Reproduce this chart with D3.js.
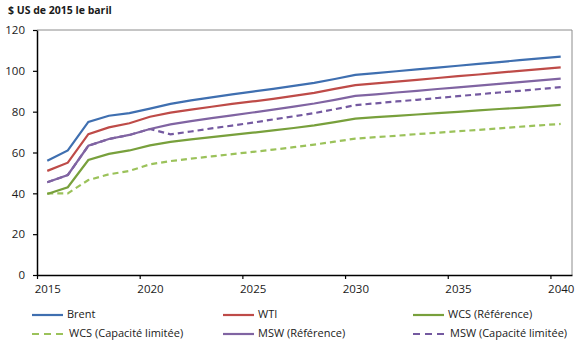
<!DOCTYPE html>
<html lang="fr">
<head>
<meta charset="UTF-8">
<title>Prix du pétrole</title>
<script src="https://d3js.org/d3.v7.min.js"></script>
<style>
    body { margin: 0; background: #fff; }
    text { font-family: "Open Sans", "Noto Sans", sans-serif; fill: #1a1a1a; }
</style>
</head>
<body>
<svg width="580" height="343"></svg>
<script type="text/javascript">
    var years = d3.range(2015, 2041);
    var xTicks = [2015, 2020, 2025, 2030, 2035, 2040];
    var yTicks = [0, 20, 40, 60, 80, 100, 120];

    var brent = [56, 61, 75, 78, 79.3, 81.5, 83.8, 85.5, 87, 88.5, 89.8, 91.2, 92.6, 94.1, 96, 98,
        98.9, 99.8, 100.7, 101.6, 102.5, 103.4, 104.3, 105.2, 106.1, 107];
    var wti = [51, 55, 69, 72.3, 74.3, 77.5, 79.5, 81, 82.4, 83.8, 85, 86.3, 87.7, 89.2, 91.2, 93,
        93.9, 94.7, 95.6, 96.5, 97.4, 98.2, 99.1, 100, 100.8, 101.7];
    var wcsRef = [39.7, 43, 56.3, 59.3, 61, 63.5, 65.2, 66.4, 67.5, 68.6, 69.7, 70.8, 72, 73.3, 74.9, 76.6,
        77.3, 77.9, 78.6, 79.3, 79.9, 80.6, 81.3, 81.9, 82.6, 83.3];
    var wcsCap = [40, 40, 46.5, 49.3, 51, 54.2, 55.8, 57, 58.1, 59.2, 60.3, 61.4, 62.6, 63.9, 65.3, 66.8,
        67.5, 68.2, 69, 69.7, 70.4, 71.1, 71.8, 72.6, 73.3, 74];
    var mswRef = [45.4, 49, 63.3, 66.6, 68.6, 71.5, 73.8, 75.4, 76.8, 78.2, 79.6, 81, 82.5, 84, 85.8, 87.7,
        88.5, 89.4, 90.2, 91.1, 91.9, 92.8, 93.6, 94.5, 95.3, 96.2];
    var mswCap = [45.4, 49, 63.3, 66.6, 68.6, 71.5, 68.9, 70.3, 71.8, 73.2, 74.6, 76.2, 77.7, 79.3, 81.2, 83.2,
        84.1, 85, 85.8, 86.7, 87.6, 88.5, 89.4, 90.2, 91.1, 92];

    var series = [
        { name: "Brent", values: brent, color: "#3f6fb0", dash: null },
        { name: "WTI", values: wti, color: "#be4b48", dash: null },
        { name: "WCS (Référence)", values: wcsRef, color: "#78a03c", dash: null },
        { name: "WCS (Capacité limitée)", values: wcsCap, color: "#9bc25a", dash: "6,4" },
        { name: "MSW (Référence)", values: mswRef, color: "#8064a2", dash: null },
        { name: "MSW (Capacité limitée)", values: mswCap, color: "#7459a0", dash: "6,4" }
    ];

    var svg = d3.select("svg");
    // plot box (window.top is read-only, so no "top" name here)
    var pL = 37, pR = 572, pT = 30, pB = 275;

    // category axis: ticks on the boundaries, points and labels in the middle
    var x = d3.scaleLinear().domain([2015, 2041.05]).range([pL, pR]);
    var y = d3.scaleLinear().domain([0, 120]).range([pB, pT]);

    // grey frame top and right
    svg.append("path")
        .attr("d", "M" + pL + "," + pT + "H" + pR + "V" + pB)
        .attr("fill", "none")
        .attr("stroke", "#8c8c8c")
        .attr("stroke-width", 1);

    // lines, dashed ones underneath so the shared start stays solid
    var line = d3.line()
        .x(function(d, i){ return x(years[i] + 0.5); })
        .y(function(d){ return y(d); });

    var drawOrder = series.filter(function(d){ return d.dash; })
        .concat(series.filter(function(d){ return !d.dash; }));

    svg.selectAll("path.serie")
        .data(drawOrder)
        .enter()
        .append("path")
        .attr("class", "serie")
        .attr("d", function(d){ return line(d.values); })
        .attr("fill", "none")
        .attr("stroke", function(d){ return d.color; })
        .attr("stroke-width", 2.2)
        .attr("stroke-dasharray", function(d){ return d.dash; });

    // y axis
    var yAxis = svg.append("g")
        .attr("transform", "translate(" + pL + ",0)")
        .call(d3.axisLeft(y).tickValues(yTicks).tickSize(4).tickPadding(8).tickSizeOuter(0));
    yAxis.select(".domain").attr("stroke", "#000").attr("stroke-width", 1.5);
    yAxis.selectAll(".tick line").attr("stroke", "#000").attr("stroke-width", 1.2);
    yAxis.selectAll("text").style("font-size", "11.5px").attr("fill", "#1a1a1a");

    // x axis
    var xAxis = svg.append("g")
        .attr("transform", "translate(0," + pB + ")")
        .call(d3.axisBottom(x).tickValues(xTicks).tickSize(4).tickSizeOuter(0).tickFormat(d3.format("d")));
    xAxis.select(".domain").attr("stroke", "#000").attr("stroke-width", 1.5);
    xAxis.selectAll(".tick line").attr("stroke", "#000").attr("stroke-width", 1.2);
    xAxis.selectAll("text")
        .attr("x", x(2015.5) - x(2015))
        .attr("y", 10)
        .style("font-size", "11.5px")
        .attr("fill", "#1a1a1a");

    // title
    svg.append("text")
        .attr("x", 8)
        .attr("y", 14)
        .style("font-size", "10.5px")
        .style("font-weight", "bold")
        .text("$ US de 2015 le baril");

    // legend, 3 columns x 2 rows
    var colX = [32, 223, 413];
    var rowY = [315, 334];
    var legend = svg.selectAll("g.leg")
        .data(series)
        .enter()
        .append("g")
        .attr("class", "leg")
        .attr("transform", function(d, i){
            return "translate(" + colX[i % 3] + "," + rowY[Math.floor(i / 3)] + ")";
        });
    legend.append("line")
        .attr("x1", 0).attr("x2", 31)
        .attr("y1", 0).attr("y2", 0)
        .attr("stroke", function(d){ return d.color; })
        .attr("stroke-width", 2.2)
        .attr("stroke-dasharray", function(d){ return d.dash ? "7,5" : null; });
    legend.append("text")
        .attr("x", function(d){ return d.dash ? 37 : 35; })
        .attr("y", 0)
        .attr("dominant-baseline", "middle")
        .style("font-size", "11px")
        .text(function(d){ return d.name; });
</script>
</body>
</html>
